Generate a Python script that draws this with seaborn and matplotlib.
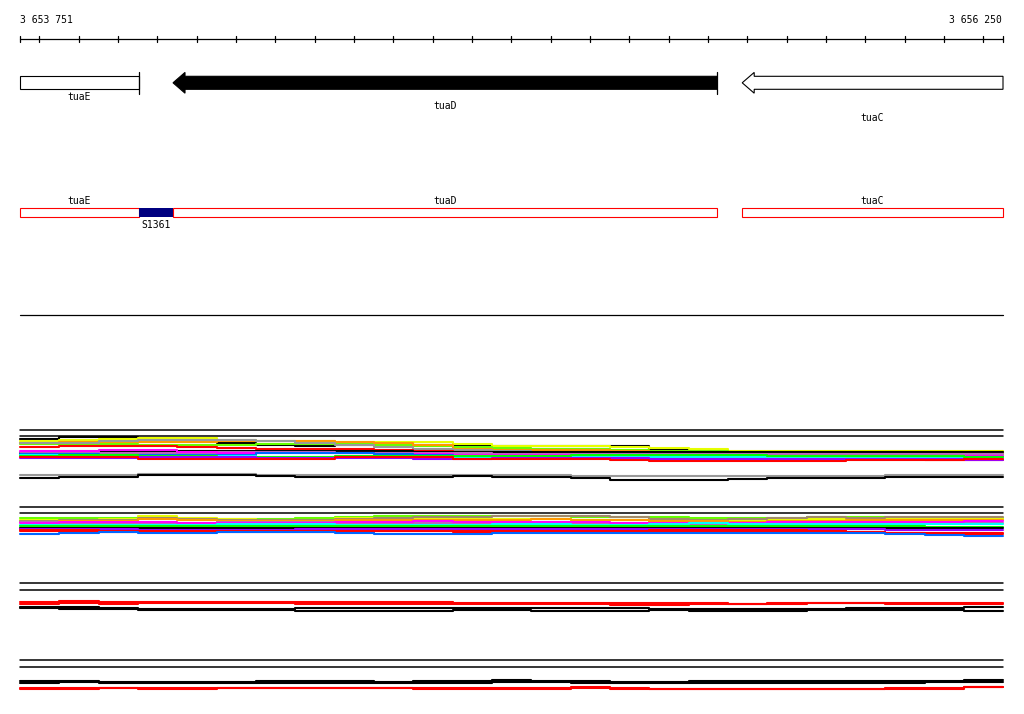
import numpy as np
import pandas as pd
import matplotlib
matplotlib.use("Agg")
import matplotlib.pyplot as plt
import seaborn as sns
from matplotlib.patches import Polygon, Rectangle

# ---------------- data ----------------
region_start = 3653751
region_end = 3656250
ruler_labels = ["3 653 751", "3 656 250"]
tick_step = 100

genes = ["tuaE", "tuaD", "tuaC"]
gene_left = [3653751, 3654140, 3655587]
gene_right = [3654054, 3655523, 3656250]
gene_selected = [False, True, False]
gene_arrow = [False, True, True]
gene_start_bar = [True, True, False]

segments = ["tuaE", "S1361", "tuaD", "tuaC"]
seg_left = [3653751, 3654054, 3654140, 3655587]
seg_right = [3654054, 3654140, 3655523, 3656250]
seg_kind = ["gene", "probe", "gene", "gene"]

bin_starts = list(range(3653751, 3656251, 100))  # 25 bins of 100 bp

# track A (expression levels, arbitrary units)
A_black = [45, 47, 47, 46, 43, 41, 39, 38, 39, 41, 39, 38, 38, 38, 38, 38, 34, 33, 32, 32, 32, 32, 32, 32, 32]
A_yellow = [43, 44, 45, 46, 46, 44, 43, 43, 42, 42, 42, 40, 38, 38, 38, 37, 36, 35, 33, 33, 33, 33, 33, 33, 33]
A_lime = [40, 40, 40, 39, 39, 39, 40, 40, 40, 39, 38, 37, 36, 35, 35, 34, 33, 33, 32, 32, 32, 31, 32, 32, 31]
A_orange = [41, 42, 42, 42, 42, 43, 43, 43, 42, 41, 39, 35, 34, 34, 34, 33, 32, 32, 31, 31, 30, 30, 30, 30, 30]
A_gray = [41, 41, 43, 44, 44, 44, 43, 41, 39, 37, 35, 34, 33, 32, 32, 31, 31, 30, 29, 29, 29, 29, 29, 29, 29]
A_red = [37, 38, 38, 38, 37, 36, 35, 35, 35, 34, 33, 32, 31, 30, 29, 29, 28, 27, 26, 26, 25, 25, 25, 24, 24]
A_black2 = [31, 31, 32, 32, 33, 33, 33, 33, 33, 33, 32, 32, 32, 32, 32, 32, 32, 32, 32, 32, 32, 32, 32, 32, 32]
A_magenta = [33, 33, 34, 34, 32, 31, 31, 31, 31, 30, 30, 29, 29, 29, 29, 29, 28, 28, 28, 28, 28, 28, 28, 28, 28]
A_purple = [32, 32, 31, 31, 31, 32, 32, 32, 31, 31, 31, 31, 30, 30, 30, 30, 30, 30, 30, 30, 30, 30, 30, 30, 30]
A_blue = [30, 30, 29, 29, 29, 29, 31, 31, 31, 30, 29, 27, 27, 27, 27, 26, 26, 26, 26, 26, 26, 27, 27, 27, 27]
A_cyan = [29, 28, 28, 28, 28, 28, 27, 27, 27, 27, 27, 27, 28, 28, 28, 28, 27, 27, 27, 27, 27, 26, 26, 26, 26]
A_green = [28, 29, 29, 28, 28, 27, 27, 27, 28, 28, 28, 28, 28, 28, 29, 29, 29, 29, 29, 28, 28, 28, 28, 28, 27]
A_red2 = [27, 27, 27, 25, 25, 25, 25, 25, 27, 27, 27, 25, 25, 25, 25, 24, 23, 23, 23, 23, 23, 24, 24, 24, 25]
A_violet = [26, 26, 26, 27, 27, 27, 26, 26, 26, 26, 25, 25, 26, 26, 26, 26, 25, 25, 25, 25, 25, 25, 25, 25, 24]
A_gray_low = [9, 9, 9, 10, 10, 10, 9, 9, 9, 9, 9, 9, 9, 9, 8, 8, 8, 8, 8, 8, 8, 8, 9, 9, 9]
A_black_low = [6, 7, 7, 9, 9, 9, 8, 7, 7, 7, 7, 8, 7, 7, 6, 4, 4, 4, 5, 6, 6, 6, 7, 7, 7]

# track B
B_lime = [22, 22, 22, 22, 21, 21, 21, 22, 23, 24, 24, 24, 24, 24, 23, 23, 23, 22, 22, 22, 23, 23, 22, 22, 22]
B_yellow = [20, 20, 21, 24, 22, 21, 20, 20, 22, 22, 22, 21, 21, 21, 20, 20, 19, 20, 20, 20, 21, 22, 22, 21, 21]
B_tan = [19, 20, 20, 22, 21, 20, 20, 20, 21, 22, 23, 23, 24, 24, 24, 23, 21, 20, 21, 22, 23, 22, 23, 23, 23]
B_orange = [18, 19, 19, 21, 20, 19, 19, 19, 20, 20, 20, 20, 20, 21, 20, 20, 19, 19, 18, 19, 19, 20, 20, 20, 20]
B_magenta = [17, 18, 18, 18, 17, 17, 17, 17, 18, 18, 19, 18, 18, 18, 18, 17, 17, 17, 17, 18, 18, 18, 18, 18, 19]
B_purple = [18, 17, 17, 16, 16, 18, 18, 18, 17, 17, 17, 17, 16, 16, 16, 16, 16, 16, 16, 17, 17, 17, 17, 17, 17]
B_cyan = [15, 15, 15, 15, 15, 16, 16, 16, 15, 15, 15, 15, 16, 16, 15, 15, 16, 17, 16, 16, 16, 16, 16, 16, 16]
B_green = [14, 14, 14, 14, 14, 14, 14, 14, 14, 14, 14, 14, 14, 14, 14, 14, 14, 14, 14, 14, 14, 14, 14, 13, 13]
B_black = [12, 12, 12, 12, 12, 12, 12, 12, 12, 12, 12, 12, 12, 12, 12, 12, 12, 12, 12, 12, 12, 12, 12, 12, 12]
B_violet = [11, 11, 11, 10, 10, 10, 10, 11, 11, 11, 11, 11, 11, 11, 11, 11, 11, 11, 11, 11, 11, 11, 10, 10, 10]
B_red2 = [10, 10, 8, 8, 8, 8, 8, 8, 8, 9, 9, 8, 8, 8, 8, 8, 8, 9, 9, 9, 9, 8, 7, 7, 7]
B_red = [9, 9, 9, 9, 9, 9, 9, 9, 9, 9, 9, 9, 9, 9, 9, 9, 10, 10, 10, 10, 9, 8, 7, 6, 6]
B_blue = [6, 7, 8, 7, 7, 8, 8, 8, 7, 6, 6, 6, 7, 7, 7, 7, 7, 7, 7, 7, 7, 7, 6, 5, 4]

# track C
C_red = [13, 14, 13, 13, 13, 13, 13, 13, 13, 13, 13, 12, 12, 12, 12, 12, 12, 12, 11, 11, 12, 12, 12, 12, 12]
C_red2 = [11, 12, 11, 12, 12, 12, 12, 11, 11, 11, 11, 11, 11, 11, 11, 10, 10, 11, 11, 12, 12, 12, 11, 11, 11]
C_black = [8, 8, 7, 6, 6, 6, 6, 7, 7, 7, 7, 7, 7, 7, 7, 7, 6, 6, 6, 6, 6, 7, 7, 7, 8]
C_black2 = [7, 6, 6, 5, 5, 5, 5, 4, 4, 4, 4, 5, 5, 4, 4, 4, 5, 4, 4, 4, 5, 5, 5, 5, 4]

# track D
D_black = [11, 11, 10, 10, 10, 10, 11, 11, 11, 10, 11, 11, 12, 11, 11, 10, 10, 11, 11, 11, 11, 11, 11, 11, 12]
D_black2 = [9, 10, 9, 9, 9, 9, 9, 9, 9, 9, 9, 9, 10, 10, 9, 9, 9, 9, 9, 9, 9, 9, 9, 10, 10]
D_red = [4, 4, 4, 4, 4, 4, 4, 4, 4, 4, 4, 4, 4, 4, 5, 4, 3, 3, 3, 3, 3, 3, 4, 4, 5]
D_red2 = [3, 3, 4, 3, 3, 4, 4, 4, 4, 4, 3, 3, 3, 3, 4, 3, 3, 3, 3, 3, 3, 3, 3, 3, 5]

tracks = {
    "A": [("A_black", A_black, "#000000"), ("A_yellow", A_yellow, "#e8ff00"),
          ("A_lime", A_lime, "#66ff00"), ("A_orange", A_orange, "#ff9900"),
          ("A_gray", A_gray, "#999999"), ("A_red", A_red, "#ff0000"),
          ("A_black2", A_black2, "#000000"), ("A_purple", A_purple, "#bb66bb"),
          ("A_magenta", A_magenta, "#ff00ff"), ("A_blue", A_blue, "#0066ff"),
          ("A_cyan", A_cyan, "#00ffff"), ("A_green", A_green, "#00ff00"),
          ("A_violet", A_violet, "#9900ff"), ("A_red2", A_red2, "#ff0000"),
          ("A_gray_low", A_gray_low, "#999999"), ("A_black_low", A_black_low, "#000000")],
    "B": [("B_lime", B_lime, "#66ff00"), ("B_yellow", B_yellow, "#e8ff00"),
          ("B_tan", B_tan, "#a08a6a"), ("B_orange", B_orange, "#ff9900"),
          ("B_purple", B_purple, "#bb66bb"), ("B_magenta", B_magenta, "#ff00ff"),
          ("B_cyan", B_cyan, "#00ffff"), ("B_green", B_green, "#00ff00"),
          ("B_black", B_black, "#000000"), ("B_violet", B_violet, "#9900ff"),
          ("B_red2", B_red2, "#ff0000"), ("B_red", B_red, "#ff0000"),
          ("B_blue", B_blue, "#0066ff")],
    "C": [("C_red", C_red, "#ff0000"), ("C_red2", C_red2, "#ff0000"),
          ("C_black", C_black, "#000000"), ("C_black2", C_black2, "#000000")],
    "D": [("D_black", D_black, "#000000"), ("D_black2", D_black2, "#000000"),
          ("D_red", D_red, "#ff0000"), ("D_red2", D_red2, "#ff0000")],
}

# ---------------- layout (pixel rows, top = 0) ----------------
W, H = 1024, 714
left_px, right_px = 20, 1003
bp_per_px = (region_end - region_start) / (right_px - left_px)
track_base = {"A": 484, "B": 540, "C": 615, "D": 692}
track_frames = {"A": (430, 436), "B": (507, 513), "C": (583, 590), "D": (660, 667)}

sns.set_theme(style="white")
plt.rcParams["font.family"] = ["DejaVu Sans Mono", "DejaVu Sans"]
plt.rcParams["text.color"] = "black"

fig = plt.figure(figsize=(W / 100, H / 100), dpi=100)
ax = fig.add_axes([0, 0, 1, 1])
ax.set_xlim(region_start - left_px * bp_per_px, region_end + (W - right_px) * bp_per_px)
ax.set_ylim(H, 0)
ax.axis("off")

fs = 7
# ruler
ruler_y = 38.5
ax.plot([region_start, region_end], [ruler_y, ruler_y], color="black", lw=0.9)
ticks = [region_start] + list(range((region_start // tick_step + 1) * tick_step, region_end, tick_step)) + [region_end]
for t in ticks:
    ax.plot([t, t], [35.5, 41.5], color="black", lw=0.9)
ax.text(region_start, 20, ruler_labels[0], ha="left", va="center", fontsize=fs, color="black")
ax.text(region_end - 1 * bp_per_px, 20, ruler_labels[1], ha="right", va="center", fontsize=fs, color="black")

# gene arrows
yc, bh, hh = 82.8, 6.5, 10.4
head = 12 * bp_per_px
label_rows = [97, 106, 118]
for i, g in enumerate(genes):
    L, R = gene_left[i], gene_right[i]
    fc = "black" if gene_selected[i] else "white"
    if gene_arrow[i]:
        pts = [(L, yc), (L + head, yc - hh), (L + head, yc - bh), (R, yc - bh),
               (R, yc + bh), (L + head, yc + bh), (L + head, yc + hh)]
    else:
        pts = [(L, yc - bh), (R, yc - bh), (R, yc + bh), (L, yc + bh)]
    ax.add_patch(Polygon(pts, closed=True, facecolor=fc, edgecolor="black", lw=0.8))
    if gene_start_bar[i]:
        ax.plot([R, R], [72, 93.5], color="black", lw=0.9)
    ax.text((L + R) / 2, label_rows[i], g, ha="center", va="center", fontsize=fs, color="black")

# segment row
y0, y1 = 207.5, 217
for i, s in enumerate(segments):
    L, R = seg_left[i], seg_right[i]
    if seg_kind[i] == "probe":
        ax.add_patch(Rectangle((L, y0), R - L, y1 - y0, facecolor="#000080", edgecolor="none"))
        ax.text((L + R) / 2, 224.5, s, ha="center", va="center", fontsize=fs, color="black")
    else:
        ax.add_patch(Rectangle((L, y0), R - L, y1 - y0, facecolor="white", edgecolor="#ff0000", lw=0.8))
        ax.text((L + R) / 2, 200.5, s, ha="center", va="center", fontsize=fs, color="black")

ax.plot([region_start, region_end], [315, 315], color="black", lw=0.9)

# expression tracks
for key, series in tracks.items():
    for fy in track_frames[key]:
        ax.plot([region_start, region_end], [fy, fy], color="black", lw=1.1)
    rows = []
    for name, vals, col in series:
        xs = bin_starts + [region_end]
        vs = list(vals) + [vals[-1]]
        for order, (x, v) in enumerate(zip(xs, vs)):
            rows.append({"series": name, "pos": x, "y": track_base[key] - v, "order": order})
    df = pd.DataFrame(rows)
    pal = {name: col for name, vals, col in series}
    sns.lineplot(data=df, x="pos", y="y", hue="series", hue_order=[s[0] for s in series],
                 palette=pal, estimator=None, sort=False, drawstyle="steps-post",
                 lw=1.5, legend=False, ax=ax)

ax.set_xlim(region_start - left_px * bp_per_px, region_end + (W - right_px) * bp_per_px)
ax.set_ylim(H, 0)
ax.axis("off")
fig.savefig("out.png", dpi=100, facecolor="white")
